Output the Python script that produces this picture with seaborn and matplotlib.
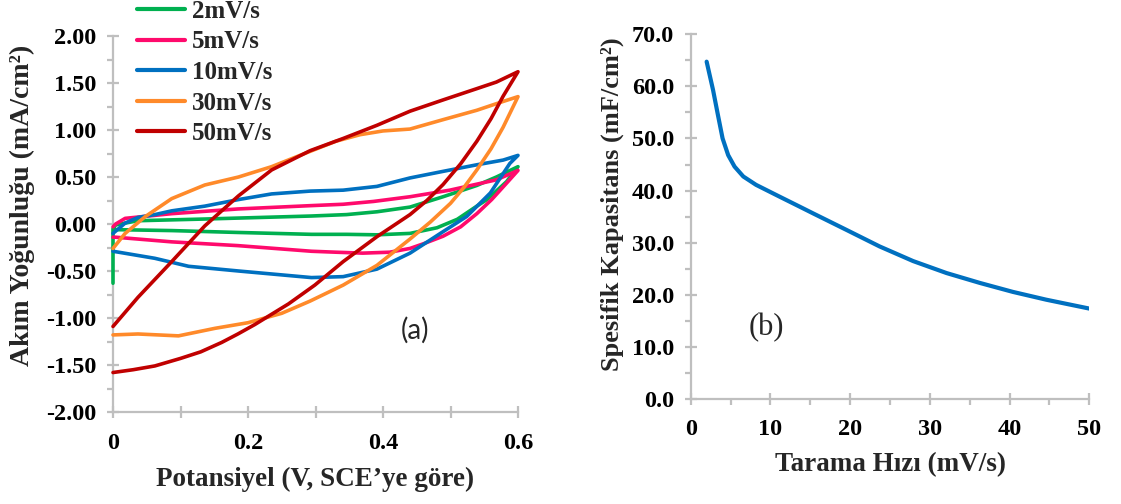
import numpy as np
import pandas as pd
import matplotlib
matplotlib.use("Agg")
import matplotlib.pyplot as plt
from matplotlib.ticker import MultipleLocator, FuncFormatter
import seaborn as sns

# ---------------- data ----------------
rate_labels = ["2mV/s", "5mV/s", "10mV/s", "30mV/s", "50mV/s"]
rate_colors = ["#00B050", "#FF0A6C", "#0070C0", "#FF8A2A", "#C00000"]

# 2 mV/s : anodic (0 -> 0.6 V) then cathodic (0.6 -> 0 V)
v2_up = [0.0, 0.0, 0.004, 0.037, 0.136, 0.294, 0.346, 0.391, 0.44, 0.489, 0.539, 0.568, 0.6]
i2_up = [-0.63, -0.05, -0.01, 0.035, 0.053, 0.085, 0.10, 0.13, 0.18, 0.29, 0.41, 0.50, 0.61]
v2_dn = [0.583, 0.554, 0.539, 0.51, 0.48, 0.44, 0.391, 0.346, 0.294, 0.185, 0.087, 0.003]
i2_dn = [0.45, 0.26, 0.19, 0.05, -0.04, -0.10, -0.115, -0.11, -0.11, -0.09, -0.07, -0.06]

# 5 mV/s
v5_up = [0.0, 0.004, 0.018, 0.087, 0.185, 0.292, 0.341, 0.386, 0.44, 0.499, 0.568, 0.6]
i5_up = [-0.03, 0.0, 0.06, 0.11, 0.16, 0.195, 0.21, 0.24, 0.29, 0.36, 0.47, 0.57]
v5_dn = [0.585, 0.561, 0.539, 0.515, 0.489, 0.46, 0.44, 0.41, 0.37, 0.33, 0.294, 0.185, 0.087, 0.003, 0.0]
i5_dn = [0.45, 0.26, 0.11, -0.03, -0.13, -0.21, -0.26, -0.30, -0.31, -0.30, -0.29, -0.23, -0.19, -0.14, -0.14]

# 10 mV/s
v10_up = [0.0, 0.018, 0.037, 0.062, 0.087, 0.136, 0.186, 0.235, 0.292, 0.341, 0.391, 0.44, 0.489, 0.539, 0.578, 0.6]
i10_up = [-0.10, 0.01, 0.07, 0.10, 0.14, 0.19, 0.26, 0.32, 0.35, 0.36, 0.40, 0.49, 0.56, 0.63, 0.68, 0.73]
v10_dn = [0.588, 0.559, 0.524, 0.485, 0.44, 0.391, 0.341, 0.294, 0.186, 0.112, 0.062, 0.0]
i10_dn = [0.645, 0.33, 0.08, -0.10, -0.31, -0.48, -0.56, -0.57, -0.50, -0.45, -0.365, -0.29]

# 30 mV/s
v30_up = [0.0, 0.018, 0.048, 0.087, 0.136, 0.186, 0.235, 0.284, 0.33, 0.366, 0.40, 0.44, 0.489, 0.539, 0.568, 0.6]
i30_up = [-0.26, -0.10, 0.08, 0.27, 0.415, 0.50, 0.61, 0.75, 0.88, 0.95, 0.99, 1.01, 1.11, 1.21, 1.28, 1.355]
v30_dn = [0.578, 0.56, 0.539, 0.52, 0.5, 0.47, 0.44, 0.391, 0.341, 0.292, 0.25, 0.2, 0.151, 0.097, 0.037, 0.0]
i30_dn = [1.03, 0.80, 0.575, 0.39, 0.22, 0.02, -0.16, -0.44, -0.65, -0.82, -0.95, -1.05, -1.11, -1.19, -1.17, -1.18]

# 50 mV/s
v50_up = [0.0, 0.037, 0.087, 0.136, 0.186, 0.235, 0.292, 0.341, 0.391, 0.44, 0.489, 0.539, 0.568, 0.6]
i50_up = [-1.09, -0.78, -0.40, -0.02, 0.30, 0.575, 0.78, 0.91, 1.05, 1.20, 1.32, 1.44, 1.51, 1.62]
v50_dn = [0.578, 0.56, 0.539, 0.515, 0.489, 0.465, 0.44, 0.415, 0.391, 0.341, 0.299, 0.26, 0.235,
          0.21, 0.185, 0.161, 0.13, 0.1, 0.062, 0.03, 0.0]
i50_dn = [1.36, 1.12, 0.88, 0.64, 0.42, 0.25, 0.10, -0.02, -0.135, -0.40, -0.65, -0.85, -0.96,
          -1.07, -1.17, -1.26, -1.36, -1.43, -1.51, -1.55, -1.58]

# specific capacitance vs scan rate
scan_rate = [2.0, 2.8, 3.4, 4.0, 4.7, 5.5, 6.6, 8.2, 11.2, 13.7, 15.4, 19.5, 23.7, 27.9, 32.1, 36.3, 40.4, 44.6, 50.0]
capacitance = [64.7, 59.3, 54.6, 50.0, 46.8, 44.6, 42.7, 41.1, 38.8, 36.9, 35.6, 32.5, 29.3, 26.5, 24.2, 22.3, 20.6, 19.1, 17.4]

# ---------------- tables ----------------
branches = [
    (v2_up + v2_dn, i2_up + i2_dn),
    (v5_up + v5_dn, i5_up + i5_dn),
    (v10_up + v10_dn, i10_up + i10_dn),
    (v30_up + v30_dn, i30_up + i30_dn),
    (v50_up + v50_dn, i50_up + i50_dn),
]
frames = []
for lab, (vv, ii) in zip(rate_labels, branches):
    frames.append(pd.DataFrame({"V": vv, "I": ii, "rate": lab, "step": np.arange(len(vv))}))
cv = pd.concat(frames, ignore_index=True)
cap = pd.DataFrame({"rate": scan_rate, "C": capacitance})

# ---------------- style ----------------
sns.set_theme(style="white")
plt.rcParams["font.family"] = ["Liberation Serif", "DejaVu Serif"]
plt.rcParams["font.weight"] = "bold"
plt.rcParams["axes.unicode_minus"] = False

AXC = "#BFBFBF"
TICK_FS = 17.5

fig = plt.figure(figsize=(11.21, 5.04), dpi=100)
ax1 = fig.add_axes([113 / 1121, 1 - 412 / 504, 405 / 1121, 376 / 504])
ax2 = fig.add_axes([690.7 / 1121, 1 - 399.4 / 504, 398.6 / 1121, 365.4 / 504])


def style_axis(ax):
    for s in ["top", "right"]:
        ax.spines[s].set_visible(False)
    for s in ["left", "bottom"]:
        ax.spines[s].set_color(AXC)
        ax.spines[s].set_linewidth(1.6)
    ax.tick_params(which="both", left=True, bottom=True, top=False, right=False)
    ax.tick_params(which="major", direction="inout", length=8, width=1.6,
                   color=AXC, labelsize=TICK_FS, pad=8, labelcolor="black")
    ax.tick_params(which="minor", direction="out", length=4, width=1.6, color=AXC)
    for t in ax.get_xticklabels() + ax.get_yticklabels():
        t.set_fontweight("bold")


# ---------------- (a) cyclic voltammograms ----------------
sns.lineplot(data=cv, x="V", y="I", hue="rate", hue_order=rate_labels,
             palette=rate_colors, sort=False, estimator=None, units="rate",
             linewidth=2.6, ax=ax1, legend=False)
for ln in ax1.get_lines():
    ln.set_clip_on(False)
    ln.set_zorder(3)
ax1.set_xlim(0, 0.6)
ax1.set_ylim(-2.0, 2.0)
ax1.xaxis.set_major_locator(MultipleLocator(0.1))
ax1.xaxis.set_major_formatter(FuncFormatter(
    lambda v, p: "0" if abs(v) < 1e-9 else ("%.1f" % v if round(v * 10) % 2 == 0 else "")))
ax1.yaxis.set_major_locator(MultipleLocator(0.5))
ax1.yaxis.set_minor_locator(MultipleLocator(0.25))
ax1.yaxis.set_major_formatter(FuncFormatter(lambda v, p: "%.2f" % v))
style_axis(ax1)
ax1.tick_params(axis="x", pad=11)
ax1.set_xlabel("Potansiyel (V, SCE’ye göre)", fontsize=19.5, fontweight="bold")
ax1.set_ylabel("Akım Yoğunluğu (mA/cm²)", fontsize=20, fontweight="bold")
ax1.xaxis.set_label_coords(0.5, -0.145)
ax1.yaxis.set_label_coords(-0.193, 0.55)
ax1.text(0.448, -1.13, "(a)", fontsize=20, fontweight="normal",
         family=["Lato", "DejaVu Sans"], ha="center", va="center")

handles = [plt.Line2D([], [], color=c, lw=3) for c in rate_colors]
fig.legend(handles, rate_labels, loc="upper left", bbox_to_anchor=(137 / 1121, 1.0),
           frameon=False, prop={"family": "Liberation Serif", "weight": "bold", "size": 18},
           handlelength=1.9, handletextpad=0.3, labelspacing=0.3,
           borderpad=0.0, borderaxespad=0.0)

# ---------------- (b) specific capacitance ----------------
sns.lineplot(data=cap, x="rate", y="C", color="#0070C0", linewidth=3,
             sort=False, estimator=None, ax=ax2)
ax2.set_xlim(0, 50)
ax2.set_ylim(0, 70)
ax2.xaxis.set_major_locator(MultipleLocator(10))
ax2.xaxis.set_minor_locator(MultipleLocator(5))
ax2.yaxis.set_major_locator(MultipleLocator(10))
ax2.yaxis.set_minor_locator(MultipleLocator(5))
ax2.yaxis.set_major_formatter(FuncFormatter(lambda v, p: "%.1f" % v))
style_axis(ax2)
ax2.tick_params(axis="x", pad=10)
ax2.set_xlabel("Tarama Hızı (mV/s)", fontsize=19.5, fontweight="bold")
ax2.set_ylabel("Spesifik Kapasitans (mF/cm²)", fontsize=19, fontweight="bold")
ax2.xaxis.set_label_coords(0.5, -0.145)
ax2.yaxis.set_label_coords(-0.168, 0.535)
ax2.text(9.5, 13.7, "(b)", fontsize=22, fontweight="normal",
         family=["Liberation Serif"], ha="center", va="center")

fig.savefig("out.png", dpi=100)
